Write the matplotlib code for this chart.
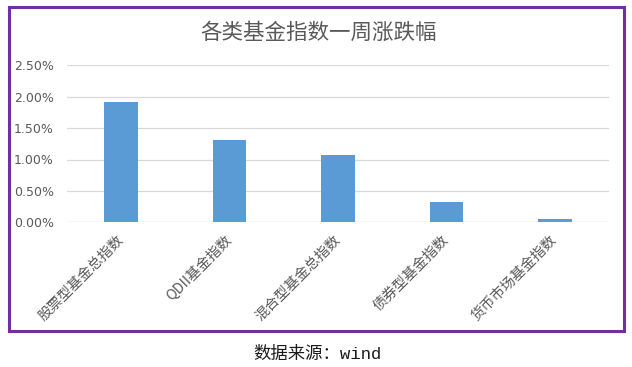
import matplotlib
matplotlib.use("Agg")
import matplotlib.pyplot as plt
from matplotlib.patches import Rectangle
from matplotlib.ticker import FuncFormatter
import matplotlib.transforms as mtransforms

plt.rcParams['font.family'] = ['Noto Sans CJK SC', 'DejaVu Sans']

categories = ["股票型基金总指数", "QDII基金指数", "混合型基金总指数", "债券型基金指数", "货币市场基金指数"]
values = [1.91, 1.31, 1.07, 0.32, 0.045]  # percent
yticks = [0.0, 0.5, 1.0, 1.5, 2.0, 2.5]

W, H = 632, 367
fig = plt.figure(figsize=(W / 100, H / 100), dpi=100)
ax = fig.add_axes([67 / W, 1 - 222.3 / H, (609 - 67) / W, (222.3 - 65.3) / H])

x = list(range(len(categories)))
ax.bar(x, values, width=0.31, color="#5B9BD5", zorder=3)
ax.set_xlim(-0.5, len(categories) - 0.5)
ax.set_ylim(0, 2.5)
ax.set_yticks(yticks)
ax.yaxis.set_major_formatter(FuncFormatter(lambda v, p: f"{v:.2f}%"))
ax.grid(axis='y', color="#D9D9D9", linewidth=0.9, zorder=0)
for s in ax.spines.values():
    s.set_visible(False)
ax.axhline(0, color="#D9D9D9", linewidth=0.9, zorder=2)
ax.tick_params(axis='both', length=0, colors="#595959")
ax.tick_params(axis='y', pad=9.5, labelsize=9)
for lbl in ax.get_yticklabels():
    lbl.set_family(['DejaVu Sans'])
ax.set_xticks(x)
ax.set_xticklabels(categories, rotation=45, ha='right', va='top', rotation_mode='anchor',
                   fontsize=10.3, color="#595959")
ax.tick_params(axis='x', pad=7.5)
offset = mtransforms.ScaledTranslation(-5 / 100, 0, fig.dpi_scale_trans)
for lbl in ax.get_xticklabels():
    lbl.set_transform(lbl.get_transform() + offset)

fig.text(318.5 / W, 1 - 33 / H, "各类基金指数一周涨跌幅", ha='center', va='center',
         fontsize=15.5, color="#595959")
fig.text(317.5 / W, 1 - 354 / H, "数据来源：wind", ha='center', va='center',
         fontsize=12.5, color="#1a1a1a", family=['Liberation Mono', 'Noto Sans CJK SC'])

fig.patches.append(Rectangle((9 / W, 1 - 331 / H), (624 - 9) / W, (331 - 7) / H,
                             transform=fig.transFigure, fill=False,
                             edgecolor="#7030A0", linewidth=2.2))

fig.savefig("out.png", dpi=100)
